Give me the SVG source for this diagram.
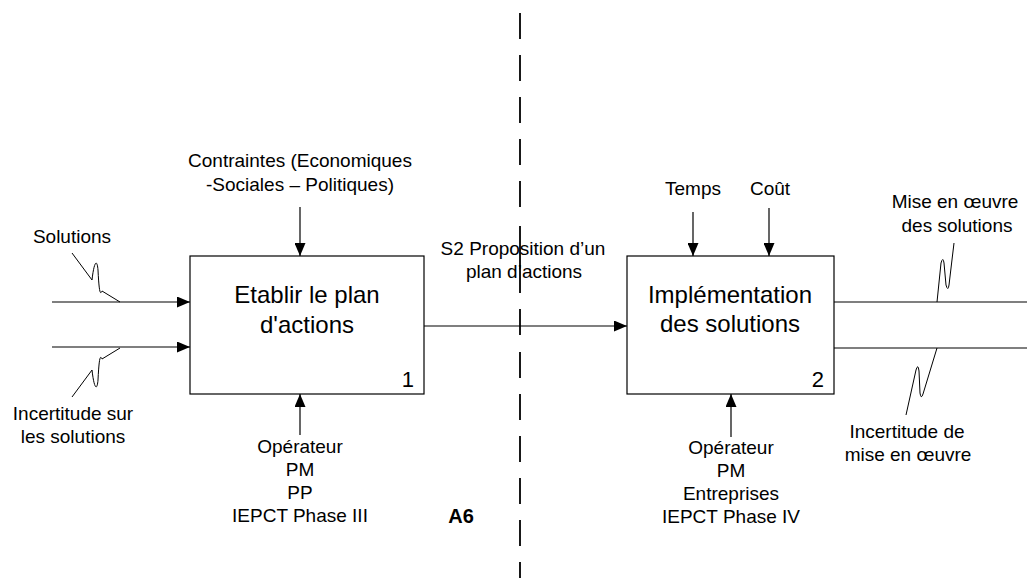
<svg xmlns="http://www.w3.org/2000/svg" width="1027" height="583" viewBox="0 0 1027 583">
<defs>
<marker id="arr" markerWidth="13" markerHeight="11" refX="13" refY="5.5" orient="auto" markerUnits="userSpaceOnUse">
<path d="M0,0 L13,5.5 L0,11 z" fill="#000"/>
</marker>
<style>
text{font-family:"Liberation Sans",Arial,sans-serif;fill:#000;font-size:19px;text-anchor:middle}
.big{font-size:24px}
.num{text-anchor:end;font-size:22px}
.bold{font-weight:bold;font-size:20px}
.box{fill:#fff;stroke:#000;stroke-width:1.2}
.ln{fill:none;stroke:#000;stroke-width:1.2}
.sq{fill:none;stroke:#000;stroke-width:1}
.dash{fill:none;stroke:#000;stroke-width:1.8}
</style>
</defs>
<rect width="1027" height="583" fill="#fff"/>

<g id="connectors">
<line class="ln" x1="52" y1="302" x2="190" y2="302" marker-end="url(#arr)"/>
<line class="ln" x1="52" y1="347" x2="190" y2="347" marker-end="url(#arr)"/>
<line class="ln" x1="300" y1="207" x2="300" y2="256" marker-end="url(#arr)"/>
<line class="ln" x1="300" y1="435" x2="300" y2="394" marker-end="url(#arr)"/>
<line class="ln" x1="424" y1="326" x2="627" y2="326" marker-end="url(#arr)"/>
<line class="ln" x1="693" y1="212" x2="693" y2="256" marker-end="url(#arr)"/>
<line class="ln" x1="769" y1="208" x2="769" y2="256" marker-end="url(#arr)"/>
<line class="ln" x1="731" y1="437" x2="731" y2="394" marker-end="url(#arr)"/>
<line class="ln" x1="834" y1="302" x2="1027" y2="302"/>
<line class="ln" x1="834" y1="348" x2="1027" y2="348"/>
<path class="sq" d="M72,253 L92,280 C94,262 97,258 98,270 C99,290 100,296 102,291 L120,302"/>
<path class="sq" d="M72,397 L92,370 C94,388 97,392 98,380 C99,360 100,354 102,359 L120,348"/>
<path class="sq" d="M954,243 L949,285 Q948,292 946,285 L944,263 Q943,256 941,263 L937,302"/>
<path class="sq" d="M937,348 L923,394 Q921,400 920,393 L919,371 Q918,363 916,370 L906,415"/>
</g>

<g id="divider">
<path class="dash" d="M520,13V39 M520,55V81 M520,97V123 M520,139V165 M520,181V207 M520,226V293 M520,309V335 M520,352V378 M520,394V420 M520,436V462 M520,478V504 M520,520V546 M520,562V578"/>
</g>

<g id="node1">
<rect class="box" x="190" y="256" width="234" height="138"/>
<text class="big" x="307" y="303">Etablir le plan</text>
<text class="big" x="307" y="333">d'actions</text>
<text class="num" x="414" y="387">1</text>
</g>

<g id="node2">
<rect class="box" x="627" y="256" width="207" height="138"/>
<text class="big" x="730" y="303">Implémentation</text>
<text class="big" x="730" y="332">des solutions</text>
<text class="num" x="824" y="387">2</text>
</g>

<g id="labels">
<text x="300" y="167">Contraintes (Economiques</text>
<text x="300" y="191">-Sociales – Politiques)</text>
<text x="72" y="243">Solutions</text>
<text x="73" y="420">Incertitude sur</text>
<text x="73" y="443">les solutions</text>
<text x="523" y="255">S2 Proposition d’un</text>
<text x="524" y="278">plan d’actions</text>
<text x="300" y="453">Opérateur</text>
<text x="300" y="476">PM</text>
<text x="300" y="499">PP</text>
<text x="300" y="522">IEPCT Phase III</text>
<text class="bold" x="461" y="523">A6</text>
<text x="693" y="195">Temps</text>
<text x="770" y="195">Coût</text>
<text x="955" y="208">Mise en œuvre</text>
<text x="957" y="232">des solutions</text>
<text x="907" y="438">Incertitude de</text>
<text x="908" y="461">mise en œuvre</text>
<text x="731" y="454">Opérateur</text>
<text x="731" y="477">PM</text>
<text x="731" y="500">Entreprises</text>
<text x="731" y="523">IEPCT Phase IV</text>
</g>
</svg>
